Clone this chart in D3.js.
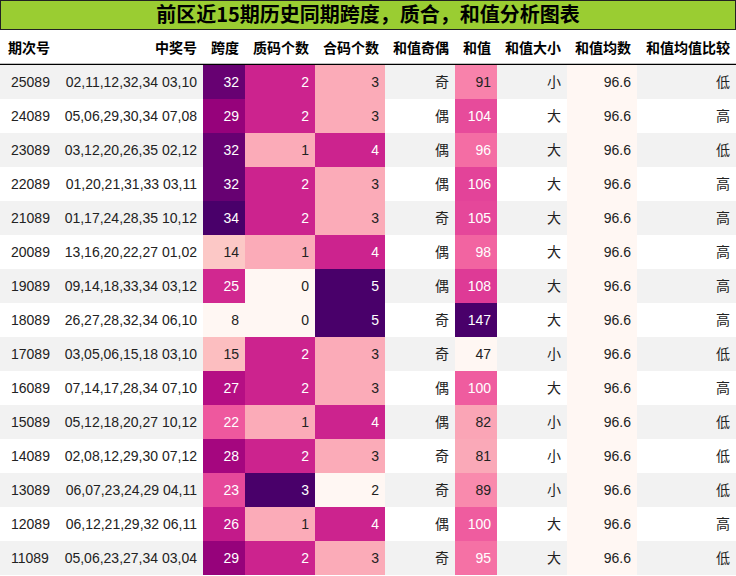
<!DOCTYPE html>
<html><head><meta charset="utf-8">
<script src="https://cdn.jsdelivr.net/npm/d3@7"></script>
<style>
body{margin:0;background:#fff;font-family:"Liberation Sans","Noto Sans CJK SC",sans-serif}
</style></head><body>
<svg id="chart" width="736" height="576"></svg>
<script>
var title = '前区近15期历史同期跨度，质合，和值分析图表'
var headers = ['期次号', '中奖号', '跨度', '质码个数', '合码个数', '和值奇偶', '和值', '和值大小', '和值均数', '和值均值比较']
var issues = ['25089', '24089', '23089', '22089', '21089', '20089', '19089', '18089', '17089', '16089', '15089', '14089', '13089', '12089', '11089']
var numbers = ['02,11,12,32,34 03,10', '05,06,29,30,34 07,08', '03,12,20,26,35 02,12', '01,20,21,31,33 03,11', '01,17,24,28,35 10,12',
  '13,16,20,22,27 01,02', '09,14,18,33,34 03,12', '26,27,28,32,34 06,10', '03,05,06,15,18 03,10', '07,14,17,28,34 07,10',
  '05,12,18,20,27 10,12', '02,08,12,29,30 07,12', '06,07,23,24,29 04,11', '06,12,21,29,32 06,11', '05,06,23,27,34 03,04']
var spans = [32, 29, 32, 32, 34, 14, 25, 8, 15, 27, 22, 28, 23, 26, 29]
var primes = [2, 2, 1, 2, 2, 1, 0, 0, 2, 2, 1, 2, 3, 1, 2]
var composites = [3, 3, 4, 3, 3, 4, 5, 5, 3, 3, 4, 3, 2, 4, 3]
var parity = ['奇', '偶', '偶', '偶', '奇', '偶', '偶', '奇', '奇', '偶', '偶', '奇', '奇', '偶', '奇']
var sums = [91, 104, 96, 106, 105, 98, 108, 147, 47, 100, 82, 81, 89, 100, 95]
var sizes = ['小', '大', '大', '大', '大', '大', '大', '大', '小', '大', '小', '小', '小', '大', '大']
var sumMean = 96.6
var compare = ['低', '高', '低', '高', '高', '高', '高', '高', '低', '高', '低', '低', '低', '高', '低']

var colEdges = [0, 60, 203, 245, 315, 385, 455, 497, 567, 637, 736]
var svg = d3.select('#chart')

svg.append('rect').attr('x', 0.5).attr('y', 0.5).attr('width', 735).attr('height', 29)
  .attr('fill', '#9acd32').attr('stroke', '#222')
svg.append('text').attr('x', 368).attr('y', 22).attr('text-anchor', 'middle')
  .attr('font-size', 20).attr('font-weight', 'bold').attr('font-family', '"Noto Sans CJK SC"').text(title)

var headerY = 48
headers.forEach(function(h, i) {
  var left = i === 0
  svg.append('text')
    .attr('x', left ? colEdges[0] + 8 : colEdges[i + 1] - 6)
    .attr('y', headerY + 5)
    .attr('text-anchor', left ? 'start' : 'end')
    .attr('font-size', 14).attr('font-weight', 'bold').attr('font-family', '"Noto Sans CJK SC"')
    .text(h)
})
svg.append('line').attr('x1', 0).attr('x2', 736).attr('y1', 64.5).attr('y2', 64.5).attr('stroke', '#000').attr('stroke-width', 1.5)

var y = d3.scaleBand().domain(d3.range(issues.length)).range([65, 575])

function colorScale(vals) {
  return d3.scaleSequential(d3.interpolateRdPu).domain(d3.extent(vals))
}
var spanColor = colorScale(spans), primeColor = colorScale(primes),
  compColor = colorScale(composites), sumColor = colorScale(sums)
var meanFill = d3.interpolateRdPu(0)

function textFill(bg) {
  return bg && d3.hsl(bg).l < 0.72 ? '#fff' : '#222'
}

var columns = [
  { vals: issues }, { vals: numbers }, { vals: spans, color: spanColor },
  { vals: primes, color: primeColor }, { vals: composites, color: compColor },
  { vals: parity }, { vals: sums, color: sumColor }, { vals: sizes },
  { vals: issues.map(function() { return sumMean.toFixed(1) }), fixed: meanFill }, { vals: compare }
]

issues.forEach(function(d, r) {
  var g = svg.append('g')
  if (r % 2 === 0) {
    g.append('rect').attr('x', 0).attr('y', y(r)).attr('width', 736).attr('height', y.bandwidth()).attr('fill', '#f2f2f2')
  }
  columns.forEach(function(c, i) {
    var v = c.vals[r]
    var bg = c.color ? c.color(v) : c.fixed
    if (bg) {
      g.append('rect').attr('x', colEdges[i]).attr('y', y(r))
        .attr('width', colEdges[i + 1] - colEdges[i]).attr('height', y.bandwidth()).attr('fill', bg)
    }
    g.append('text')
      .attr('x', i === 0 ? colEdges[0] + 11 : colEdges[i + 1] - 6)
      .attr('y', y(r) + y.bandwidth() / 2 + 5)
      .attr('text-anchor', i === 0 ? 'start' : 'end')
      .attr('font-size', 14)
      .attr('font-family', typeof v === 'string' && /[^\x00-\x7f]/.test(v) ? '"Noto Sans CJK SC"' : '"Liberation Sans"')
      .attr('fill', c.color ? textFill(bg) : '#222')
      .text(v)
  })
})
</script></body></html>
